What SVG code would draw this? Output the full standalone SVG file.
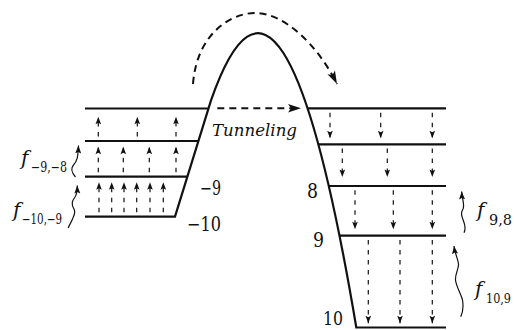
<svg xmlns="http://www.w3.org/2000/svg" width="514" height="330" viewBox="0 0 514 330">
<style>
.lv{fill:none;stroke:#111;stroke-width:2.2;stroke-linejoin:miter}
.da{fill:none;stroke:#111;stroke-width:1.2;stroke-dasharray:4.5,5.5;marker-end:url(#s)}
.big{fill:none;stroke:#111;stroke-width:2;stroke-dasharray:7,5;marker-end:url(#b)}
.wv{fill:none;stroke:#111;stroke-width:1.2;marker-end:url(#w)}
.tx{font-family:"DejaVu Serif","Liberation Serif",serif;fill:#111}
.it{font-style:italic}
</style>
<defs>
<marker id="s" viewBox="-8 -3.5 9 7" refX="0" refY="0" markerWidth="9" markerHeight="7" markerUnits="userSpaceOnUse" orient="auto"><path d="M0,0 L-7.5,-2.8 L-6,0 L-7.5,2.8 z" fill="#111"/></marker>
<marker id="w" viewBox="-9 -4 10 8" refX="0" refY="0" markerWidth="10" markerHeight="8" markerUnits="userSpaceOnUse" orient="auto"><path d="M0,0 L-8,-3 L-6.5,0 L-8,3 z" fill="#111"/></marker>
<marker id="b" viewBox="-14 -5 15 10" refX="0" refY="0" markerWidth="15" markerHeight="10" markerUnits="userSpaceOnUse" orient="auto"><path d="M0,0 L-13,-4.2 L-10,0 L-13,4.2 z" fill="#111"/></marker>
</defs>

<g id="barrier">
<path class="lv" d="M85,216.7 L175,216.7 L211,100.4 Q283.5,-107.5 356.3,327.5 L446,327.5"/>
</g>
<g id="left-levels">
<line class="lv" x1="85" y1="108.5" x2="208.4" y2="108.5"/>
<line class="lv" x1="85" y1="141" x2="198.4" y2="141"/>
<line class="lv" x1="85" y1="176.7" x2="187.4" y2="176.7"/>
</g>
<g id="right-levels">
<line class="lv" x1="307.7" y1="108.3" x2="446" y2="108.3"/>
<line class="lv" x1="318.4" y1="144.3" x2="446" y2="144.3"/>
<line class="lv" x1="328.8" y1="186" x2="446" y2="186"/>
<line class="lv" x1="339.5" y1="235.7" x2="446" y2="235.7"/>
</g>

<g id="connectors">
<path class="da" d="M98.3,136.5 V116.7"/>
<path class="da" d="M137.3,136.5 V116.7"/>
<path class="da" d="M176,136.5 V116.7"/>
<path class="da" d="M98.3,172.3 V146.7"/>
<path class="da" d="M123.3,172.3 V146.7"/>
<path class="da" d="M149.3,172.3 V146.7"/>
<path class="da" d="M176,172.3 V146.7"/>
<path class="da" d="M99,212.3 V182.3"/>
<path class="da" d="M111.7,212.3 V182.3"/>
<path class="da" d="M124,212.3 V182.3"/>
<path class="da" d="M136.7,212.3 V182.3"/>
<path class="da" d="M150,212.3 V182.3"/>
<path class="da" d="M163.3,212.3 V182.3"/>

<path class="da" d="M330,112.7 V138.3"/>
<path class="da" d="M380.7,112.7 V138.3"/>
<path class="da" d="M432.3,112.7 V138.3"/>
<path class="da" d="M342.3,148.5 V177"/>
<path class="da" d="M387.3,148.5 V177"/>
<path class="da" d="M432.3,148.5 V177"/>
<path class="da" d="M355,190.3 V229.3"/>
<path class="da" d="M393.3,190.3 V229.3"/>
<path class="da" d="M432.3,190.3 V229.3"/>
<path class="da" d="M368.3,240 V323.3"/>
<path class="da" d="M400,240 V323.3"/>
<path class="da" d="M432.3,240 V323.3"/>

<path class="big" d="M217.3,108.3 H301"/>
<path class="big" d="M193,84 C197,32 233,12 257,13 C283,14 316,42 337,84"/>

<path class="wv" d="M75.5,177 C72,173 70,169 73.5,165 C77,161 78,158 78.5,145.5"/>
<path class="wv" d="M68.3,228 C69,225 71,223 72.5,219 C74,215 76,213 74,209 C71,204 72,201 75,197 C77,194 77.3,190 77.3,185.5"/>
<path class="wv" d="M464,232.7 C466,229 465,225 463.5,221 C461.5,216 460.5,213 463,209 C465,205 462,199 461.7,191.5"/>
<path class="wv" d="M460.7,316.7 C463,312 463.5,306 462.5,300 C461.5,295 456,286 455.5,280 C455,274 459,268 458.5,264 C458,259 455,254 454,246"/>
</g>

<g id="labels">
<text class="tx it" x="212" y="135.7" font-size="17" textLength="85" lengthAdjust="spacingAndGlyphs">Tunneling</text>
<text class="tx" x="200" y="195" font-size="20" textLength="21" lengthAdjust="spacingAndGlyphs">−9</text>
<text class="tx" x="187" y="231" font-size="20" textLength="34" lengthAdjust="spacingAndGlyphs">−10</text>
<text class="tx" x="307" y="198" font-size="20" textLength="11" lengthAdjust="spacingAndGlyphs">8</text>
<text class="tx" x="313" y="247" font-size="20" textLength="11" lengthAdjust="spacingAndGlyphs">9</text>
<text class="tx" x="323" y="325" font-size="19" textLength="20" lengthAdjust="spacingAndGlyphs">10</text>
<text class="tx it" x="21" y="165" font-size="20">f</text>
<text class="tx" x="31" y="172" font-size="14" textLength="36" lengthAdjust="spacingAndGlyphs">−9,−8</text>
<text class="tx it" x="13" y="217" font-size="20">f</text>
<text class="tx" x="22" y="224" font-size="14" textLength="40" lengthAdjust="spacingAndGlyphs">−10,−9</text>
<text class="tx it" x="477" y="217" font-size="20">f</text>
<text class="tx" x="489" y="225" font-size="14" textLength="23" lengthAdjust="spacingAndGlyphs">9,8</text>
<text class="tx it" x="475" y="296" font-size="20">f</text>
<text class="tx" x="486" y="303" font-size="12.5" textLength="25" lengthAdjust="spacingAndGlyphs">10,9</text>
</g>
</svg>
